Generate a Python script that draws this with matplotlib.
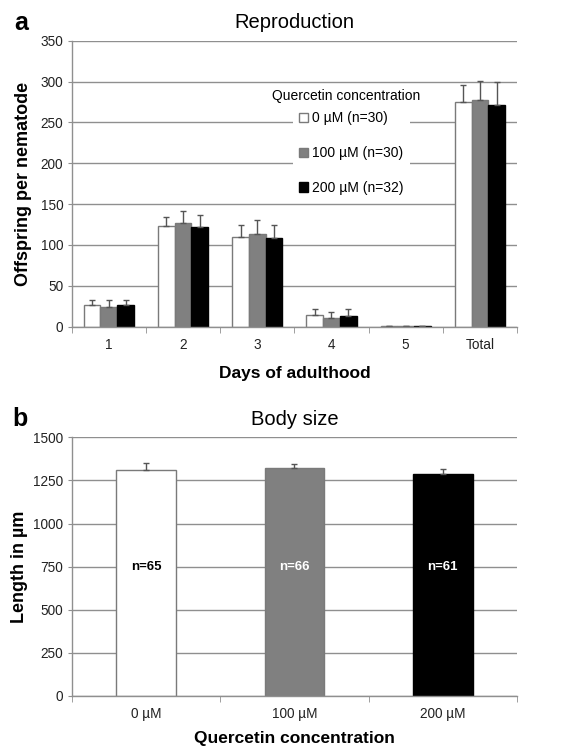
import numpy as np
import matplotlib
matplotlib.use("Agg")
import matplotlib.pyplot as plt
from matplotlib.patches import Patch

plt.rcParams['font.family'] = ['Liberation Sans', 'DejaVu Sans']

# panel a: offspring per nematode
days = ['1', '2', '3', '4', '5', 'Total']
conc_labels = ['0 µM (n=30)', '100 µM (n=30)', '200 µM (n=32)']
off_0 = [27, 123, 110, 14, 0.5, 275]
off_100 = [24, 127, 114, 11, 0.5, 277]
off_200 = [26, 122, 108, 13, 1, 271]
err_0 = [6, 11, 15, 8, 0.3, 21]
err_100 = [9, 14, 16, 7, 0.3, 24]
err_200 = [7, 15, 16, 9, 0.4, 28]

# panel b: body size
conc = ['0 µM', '100 µM', '200 µM']
length = [1308, 1320, 1286]
length_err = [42, 27, 32]
n_size = ['n=65', 'n=66', 'n=61']

colors = ['white', '#808080', 'black']
edge = ['#7a7a7a', '#7a7a7a', 'black']
text_col = ['black', 'white', 'white']
grid_col = '#8f8f8f'

fig = plt.figure(figsize=(5.75, 7.49), dpi=100)

def style_axes(ax, ncat, ymax, ystep):
    ax.set_xlim(-0.5, ncat - 0.5)
    ax.set_ylim(0, ymax)
    ax.set_yticks(np.arange(0, ymax + 1, ystep))
    ax.yaxis.grid(True, color=grid_col, linewidth=1)
    ax.set_axisbelow(True)
    for s in ['top', 'right']:
        ax.spines[s].set_visible(False)
    for s in ['left', 'bottom']:
        ax.spines[s].set_color(grid_col)
        ax.spines[s].set_linewidth(1)
    ax.set_xticks(np.arange(ncat))
    ax.set_xticks(np.arange(ncat + 1) - 0.5, minor=True)
    ax.tick_params(axis='x', which='major', length=0, pad=8, labelsize=9.8, labelcolor='#222222')
    ax.tick_params(axis='x', which='minor', length=4, color=grid_col, direction='out')
    ax.tick_params(axis='y', length=3, color=grid_col, labelsize=9.8, pad=3, labelcolor='#222222')

# ---- a ----
ax1 = fig.add_axes([0.1247, 0.5638, 0.7745, 0.3819])
x = np.arange(len(days))
w = 0.225
series = [off_0, off_100, off_200]
errs = [err_0, err_100, err_200]
for i in range(3):
    ax1.bar(x + (i - 1) * w, series[i], w, color=colors[i], edgecolor=edge[i], linewidth=1,
            yerr=[np.zeros(len(days)), errs[i]], error_kw=dict(ecolor='#555555', elinewidth=1, capsize=2, capthick=1))
style_axes(ax1, len(days), 350, 50)
ax1.set_xticklabels(days)
ax1.set_title('Reproduction', fontsize=14.5, pad=9)
ax1.set_ylabel('Offspring per nematode', fontsize=13, fontweight='bold', labelpad=6)
ax1.set_xlabel('Days of adulthood', fontsize=12.5, fontweight='bold', labelpad=10)

handles = [Patch(facecolor=colors[i], edgecolor=edge[i]) for i in range(3)]
leg = ax1.legend(handles, conc_labels, loc='upper left', bbox_to_anchor=(0.497, 0.772),
                 borderaxespad=0, fontsize=10, frameon=True, fancybox=False, framealpha=1,
                 facecolor='white', edgecolor='none', handlelength=0.7, handleheight=0.7,
                 handletextpad=0.3, labelspacing=1.5, borderpad=0.4)
ax1.text(0.616, 0.808, 'Quercetin concentration', transform=ax1.transAxes, fontsize=10,
         ha='center', va='center')
fig.text(0.024, 0.969, 'a', fontsize=18, fontweight='bold', va='center')

# ---- b ----
ax2 = fig.add_axes([0.1247, 0.0708, 0.7745, 0.3453])
x2 = np.arange(len(conc))
ax2.bar(x2, length, 0.4, color=colors, edgecolor=edge, linewidth=1,
        yerr=[np.zeros(len(conc)), length_err], error_kw=dict(ecolor='#555555', elinewidth=1, capsize=2, capthick=1))
style_axes(ax2, len(conc), 1500, 250)
ax2.set_xticklabels(conc)
for i in range(len(conc)):
    ax2.text(x2[i], 750, n_size[i], ha='center', va='center', fontsize=9.5,
             fontweight='bold', color=text_col[i])
ax2.set_title('Body size', fontsize=14.5, pad=9)
ax2.set_ylabel('Length in µm', fontsize=13, fontweight='bold', labelpad=4)
ax2.set_xlabel('Quercetin concentration', fontsize=12.5, fontweight='bold', labelpad=7)
fig.text(0.022, 0.44, 'b', fontsize=18, fontweight='bold', va='center')

fig.savefig('out.png', dpi=100)
